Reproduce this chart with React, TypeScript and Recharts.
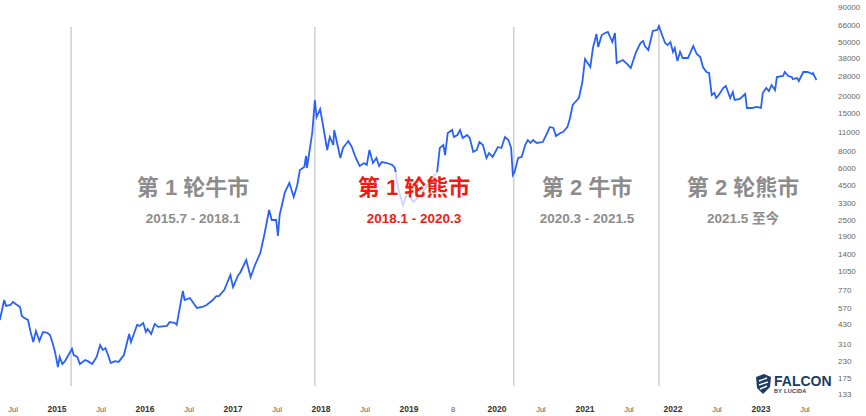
import React from "react";
import {
  LineChart,
  Line,
  XAxis,
  YAxis,
  ReferenceLine,
} from "recharts";

// decimal years
const dates = [
  2014.35, 2014.4, 2014.42, 2014.47, 2014.5, 2014.53, 2014.58, 2014.6, 2014.63, 2014.67,
  2014.7, 2014.73, 2014.76, 2014.8, 2014.84, 2014.89, 2014.92, 2014.95, 2014.98, 2015.01,
  2015.03, 2015.06, 2015.09, 2015.13, 2015.17, 2015.19, 2015.23, 2015.26, 2015.32, 2015.35,
  2015.4, 2015.45, 2015.49, 2015.52, 2015.55, 2015.58, 2015.61, 2015.66, 2015.7, 2015.76,
  2015.82, 2015.84, 2015.91, 2015.94, 2015.98, 2016.01, 2016.03, 2016.07, 2016.11, 2016.15,
  2016.25, 2016.28, 2016.34, 2016.36, 2016.43, 2016.45, 2016.51, 2016.59, 2016.65, 2016.7,
  2016.77, 2016.81, 2016.84, 2016.9, 2016.97, 2017.0, 2017.06, 2017.08, 2017.15, 2017.2,
  2017.25, 2017.31, 2017.36, 2017.41, 2017.44, 2017.49, 2017.51, 2017.53, 2017.59, 2017.64,
  2017.69, 2017.73, 2017.76, 2017.81, 2017.83, 2017.84, 2017.9, 2017.93, 2017.95, 2017.99,
  2018.03, 2018.07, 2018.1, 2018.14, 2018.15, 2018.18, 2018.22, 2018.25, 2018.31, 2018.35,
  2018.39, 2018.44, 2018.49, 2018.52, 2018.55, 2018.59, 2018.63, 2018.66, 2018.69, 2018.75,
  2018.81, 2018.84, 2018.88, 2018.93, 2018.98, 2019.05, 2019.13, 2019.2, 2019.27, 2019.32,
  2019.35, 2019.39, 2019.41, 2019.44, 2019.49, 2019.51, 2019.55, 2019.58, 2019.61, 2019.66,
  2019.69, 2019.73, 2019.77, 2019.8, 2019.84, 2019.88, 2019.91, 2019.95, 2020.01, 2020.05,
  2020.09, 2020.13, 2020.16, 2020.18, 2020.2, 2020.24, 2020.28, 2020.32, 2020.35, 2020.38,
  2020.41, 2020.45, 2020.52, 2020.57, 2020.6, 2020.64, 2020.67, 2020.72, 2020.75, 2020.8,
  2020.83, 2020.86, 2020.91, 2020.93, 2020.97, 2021.0, 2021.06, 2021.09, 2021.13, 2021.15,
  2021.19, 2021.23, 2021.26, 2021.31, 2021.34, 2021.36, 2021.43, 2021.48, 2021.52, 2021.58,
  2021.63, 2021.66, 2021.68, 2021.72, 2021.77, 2021.82, 2021.84, 2021.88, 2021.91, 2021.94,
  2021.97, 2022.0, 2022.02, 2022.05, 2022.08, 2022.11, 2022.17, 2022.23, 2022.27, 2022.31,
  2022.34, 2022.38, 2022.41, 2022.44, 2022.47, 2022.49, 2022.52, 2022.57, 2022.6, 2022.65,
  2022.68, 2022.7, 2022.76, 2022.82, 2022.84, 2022.9, 2022.95, 2023.0, 2023.02, 2023.06,
  2023.09, 2023.12, 2023.16, 2023.18, 2023.25, 2023.27, 2023.31, 2023.35, 2023.36, 2023.41,
  2023.43, 2023.48, 2023.53, 2023.58, 2023.59, 2023.63,
];

const prices = [
  464, 649, 587, 597, 628, 607, 577, 496, 480, 464,
  379, 320, 385, 326, 379, 373, 360, 315, 266, 210,
  249, 221, 232, 257, 285, 257, 249, 221, 236, 232,
  221, 249, 304, 280, 289, 257, 225, 232, 229, 257,
  366, 320, 427, 420, 441, 379, 399, 366, 434, 413,
  420, 448, 441, 427, 755, 649, 671, 568, 577, 597,
  649, 694, 694, 768, 989, 808, 989, 1023, 1273, 956,
  1170, 1432, 2005, 2953, 2496, 2496, 1906, 2715, 3998, 4653,
  3675, 4499, 5790, 6090, 7330, 5989, 10790, 18810, 14130, 16170,
  11540, 8110, 10090, 8820, 11350, 9270, 7087, 8386, 9430, 8530,
  7210, 6194, 6514, 6299, 8110, 6514, 7087, 6194, 6625, 6514,
  6299, 5989, 4135, 3212, 3931, 3379, 3801, 4349, 5146, 5600,
  8386, 8820, 7450, 10790, 11350, 10090, 10430, 11350, 9920, 10430,
  9920, 7840, 8110, 9270, 8820, 7087, 7710, 7210, 8530, 8386,
  10090, 9590, 8386, 5323, 5600, 7087, 7210, 8820, 9590, 9120,
  9590, 9120, 9270, 10790, 11940, 11740, 10260, 10790, 10980, 11940,
  13900, 17290, 18810, 19450, 25470, 37510, 32780, 45130, 57120, 45890,
  56170, 58090, 59090, 49940, 58090, 35060, 36880, 34460, 32240, 42200,
  49100, 50790, 46690, 43640, 60090, 61110, 65360, 55230, 49100, 47480,
  49940, 42200, 45130, 36260, 42200, 38140, 38140, 46690, 40790, 38790,
  32780, 30140, 29630, 20460, 21160, 19450, 20460, 23020, 23810, 19450,
  21520, 18810, 19130, 20810, 16440, 16440, 16720, 16440, 21160, 23020,
  21890, 24210, 22260, 27700, 28170, 30140, 28170, 27700, 26780, 27240,
  25900, 30140, 30140, 29140, 29630, 26340,
];

const priceTicks = [
  133, 175, 230, 310, 430, 570, 770, 1050, 1400, 1900, 2500, 3300, 4500, 6000,
  8000, 11000, 15000, 20000, 28000, 38000, 50000, 66000, 90000,
];

const timeTicks = [
  2014.5, 2015, 2015.5, 2016, 2016.5, 2017, 2017.5, 2018, 2018.5, 2019,
  2019.5, 2020, 2020.5, 2021, 2021.5, 2022, 2022.5, 2023, 2023.5,
];
const timeTickLabels = [
  "Jul", "2015", "Jul", "2016", "Jul", "2017", "Jul", "2018", "Jul", "2019",
  "8", "2020", "Jul", "2021", "Jul", "2022", "Jul", "2023", "Jul",
];

// cycle dividers
const cycleDates = [2015.16, 2017.93, 2020.19, 2021.84];

const phaseTitles = ["第 1 轮牛市", "第 1 轮熊市", "第 2 牛市", "第 2 轮熊市"];
const phaseRanges = ["2015.7 - 2018.1", "2018.1 - 2020.3", "2020.3 - 2021.5", "2021.5 至今"];
const phaseColors = ["#8c8c8c", "#ee1c13", "#8c8c8c", "#8c8c8c"];
const phaseCenters = [193, 414, 587, 743];

const data = dates.map((t, i) => ({ t, price: prices[i] }));

const FONT = "'Liberation Sans', Arial, 'Noto Sans CJK SC', sans-serif";

const TimeTick = (props: any) => {
  const { x, y, payload } = props;
  const i = timeTicks.indexOf(payload.value);
  const label = timeTickLabels[i] ?? "";
  const isYear = payload.value % 1 === 0;
  return (
    <text
      x={x}
      y={y + 4}
      textAnchor="middle"
      fontFamily={FONT}
      fontSize={isYear ? 8.5 : 7.5}
      fontWeight={isYear ? 700 : 400}
      fill={isYear ? "#333" : "#555"}
    >
      {label}
    </text>
  );
};

export default function App() {
  return (
    <div
      style={{
        position: "absolute",
        left: 0,
        top: 0,
        width: 866,
        height: 416,
        background: "#fff",
        fontFamily: FONT,
      }}
    >
      <LineChart
        width={866}
        height={416}
        data={data}
        margin={{ top: 0, right: 0, bottom: 0, left: 0 }}
      >
        <XAxis
          dataKey="t"
          type="number"
          domain={[2014.352, 2023.784]}
          ticks={timeTicks}
          interval={0}
          tick={<TimeTick />}
          axisLine={false}
          tickLine={false}
          height={16}
          allowDataOverflow
        />
        <YAxis
          orientation="right"
          scale="log"
          domain={[120.6, 101250]}
          ticks={priceTicks}
          allowDataOverflow
          axisLine={false}
          tickLine={false}
          width={36}
          interval={0}
          tick={{ fontSize: 8, fill: "#666", fontFamily: FONT, textAnchor: "start" }}
        />
        {cycleDates.map((d) => (
          <ReferenceLine
            key={d}
            segment={[
              { x: d, y: 64280 },
              { x: d, y: 152.7 },
            ]}
            stroke="#cfcfcf"
            strokeWidth={1.5}
          />
        ))}
        <Line
          dataKey="price"
          type="linear"
          stroke="#2a62f6"
          strokeWidth={1.8}
          dot={false}
          isAnimationActive={false}
        />
      </LineChart>

      {phaseTitles.map((title, i) => (
        <div
          key={title + i}
          style={{
            position: "absolute",
            left: phaseCenters[i],
            top: 172,
            transform: "translateX(-50%)",
            textAlign: "center",
            color: phaseColors[i],
            fontWeight: 700,
            whiteSpace: "nowrap",
            padding: "0 3px 6px",
            background: i === 1 ? "rgba(255,255,255,0.75)" : "transparent",
          }}
        >
          <div style={{ fontSize: 22, lineHeight: "32px" }}>{title}</div>
          <div style={{ fontSize: 13.5, lineHeight: "18px", marginTop: 6 }}>
            {phaseRanges[i]}
          </div>
        </div>
      ))}

      <div
        style={{
          position: "absolute",
          left: 755,
          top: 373,
          display: "flex",
          alignItems: "center",
          color: "#1d3b66",
        }}
      >
        <svg width={17} height={22} viewBox="0 0 17 22">
          <path d="M1 4 L9 1 L16 4 L15 14 L8 21 L2 15 Z" fill="#1d3b66" />
          <path d="M4 8 L12 5 M4 12 L13 9 M5 16 L12 13" stroke="#fff" strokeWidth={1.4} />
        </svg>
        <div style={{ marginLeft: 2 }}>
          <div style={{ fontSize: 14, fontWeight: 700, lineHeight: "14px" }}>FALCON</div>
          <div style={{ fontSize: 5.5, fontWeight: 700, lineHeight: "7px", letterSpacing: 0.3 }}>
            BY LUCIDA
          </div>
        </div>
      </div>
    </div>
  );
}
